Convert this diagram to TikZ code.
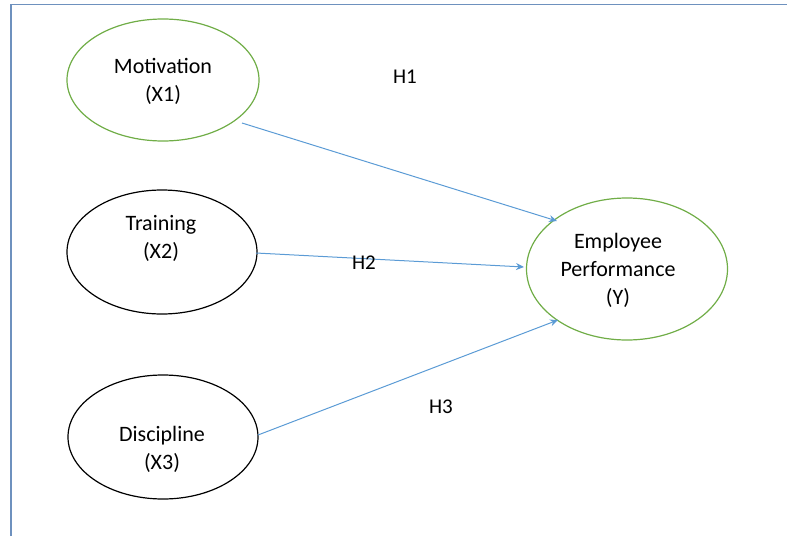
\documentclass[tikz,border=0pt]{standalone}
\usepackage{fontspec}
\setmainfont{Carlito}
\usetikzlibrary{shapes.geometric,arrows.meta}
\definecolor{framec}{RGB}{110,145,190}
\definecolor{greenc}{RGB}{112,173,71}
\definecolor{bluec}{RGB}{91,155,213}
\begin{document}
\begin{tikzpicture}[x=1pt,y=-1pt,
  var/.style={ellipse,draw,line width=1.2pt,inner sep=0pt},
  vtext/.style={align=center,font=\fontsize{22}{28}\selectfont,inner sep=0pt},
  link/.style={draw=bluec,line width=1pt,-{Stealth[length=8pt,width=7pt]}},
  hlabel/.style={font=\fontsize{21}{22}\selectfont}]
\useasboundingbox (0,0) rectangle (787,536);
% frame
\draw[framec,line width=1.6pt] (11,536) -- (11,4.5) -- (787,4.5);
% constructs
\node[var,draw=greenc,minimum width=192pt,minimum height=122pt] (x1) at (163,80) {};
\node[var,draw=black,minimum width=190pt,minimum height=124pt] (x2) at (162,252) {};
\node[var,draw=black,minimum width=190pt,minimum height=124pt] (x3) at (163,437) {};
\node[var,draw=greenc,minimum width=201pt,minimum height=142pt] (y) at (627,269) {};
% construct names
\node[vtext] (x1t) at (163,81) {Motivation\\(X1)};
\node[vtext] (x2t) at (161,238) {Training\\(X2)};
\node[vtext] (x3t) at (162,449) {Discipline\\(X3)};
\node[vtext] (yt) at (618,270) {Employee\\Performance\\(Y)};
% paths
\coordinate (s1) at (242,123); \coordinate (e1) at (557,221);
\coordinate (s2) at (256,253); \coordinate (e2) at (524,267);
\coordinate (s3) at (258,435); \coordinate (e3) at (558,320);
\draw[link] (s1) -- (e1);
\draw[link] (s2) -- (e2);
\draw[link] (s3) -- (e3);
% hypothesis labels
\node[hlabel] (h1) at (405,77) {H1};
\node[hlabel] (h2) at (364,263) {H2};
\node[hlabel] (h3) at (441,407) {H3};
\end{tikzpicture}
\end{document}
